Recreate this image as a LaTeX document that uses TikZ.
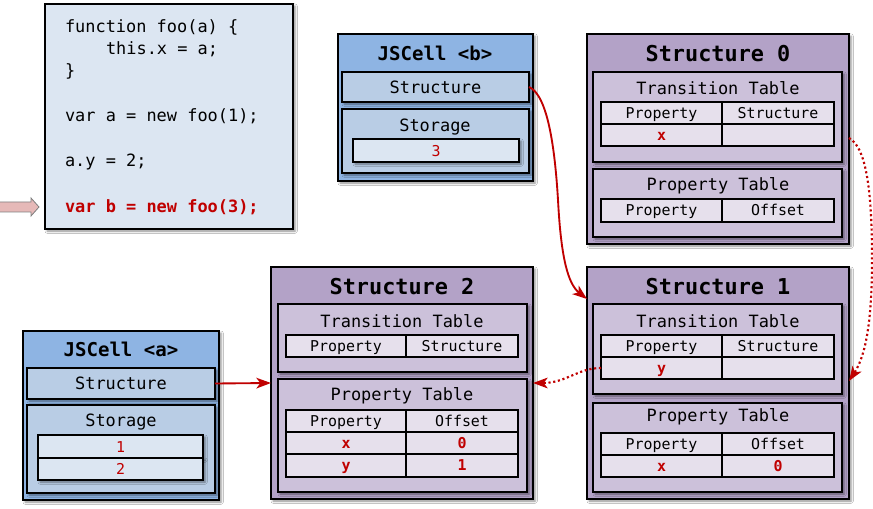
\documentclass[tikz,border=0pt]{standalone}
\usepackage{fontspec}
\newfontfamily\mono{DejaVu Sans Mono}
\usetikzlibrary{arrows.meta,shadows.blur}
\definecolor{codefill}{HTML}{DCE6F2}
\definecolor{bout}{HTML}{8EB4E3}
\definecolor{bmid}{HTML}{B9CDE5}
\definecolor{blight}{HTML}{DCE6F2}
\definecolor{pout}{HTML}{B3A2C7}
\definecolor{pmid}{HTML}{CCC1DA}
\definecolor{plight}{HTML}{E6E0EC}
\definecolor{redt}{HTML}{C00000}
\definecolor{pinkar}{HTML}{E6B9B8}
\newcommand\fcode{\mono\fontsize{12.7}{15}\selectfont}
\newcommand\fttl{\mono\bfseries\fontsize{16.4}{19}\selectfont}
\newcommand\fjs{\mono\bfseries\fontsize{14.3}{17}\selectfont}
\newcommand\fsec{\mono\fontsize{12.7}{15}\selectfont}
\newcommand\fsm{\mono\fontsize{11.2}{13}\selectfont}
% box: name, x1, y1, x2, y2, style, text
\newcommand\bx[7]{\node[#6, minimum width={(#4-#2)*0.75pt}, minimum height={(#5-#3)*0.75pt}] (#1) at ({(#2+#4)/2},{(#3+#5)/2}) {#7};}
\begin{document}
\begin{tikzpicture}[x=0.75pt,y=-0.75pt,
  every node/.style={inner sep=0pt,outer sep=0pt},
  shd/.style={blur shadow={shadow xshift=1.6pt,shadow yshift=-1.6pt,shadow blur steps=4,shadow blur radius=1.6pt,shadow opacity=45}},
  codebox/.style={draw=black,line width=1.5pt,fill=codefill,shd},
  codeline/.style={anchor=west,font=\fcode,text height=9.5pt,text depth=3pt},
  cout/.style={draw=black,line width=0.9pt,fill=bout,shd},
  cmid/.style={draw=black,line width=0.8pt,fill=bmid,shd,font=\fsec,text height=12pt,text depth=2.5pt},
  clight/.style={draw=black,line width=0.8pt,fill=blight,shd,font=\fsm,text=redt,text height=10.5pt,text depth=2pt},
  sout/.style={draw=black,line width=0.9pt,fill=pout,shd},
  smid/.style={draw=black,line width=0.8pt,fill=pmid,shd},
  scell/.style={draw=black,line width=0.8pt,fill=plight,font=\fsm,text height=10.5pt,text depth=2.5pt},
  sval/.style={scell,font=\fsm\bfseries,text=redt},
  ttl/.style={font=\fttl},
  jst/.style={font=\fjs},
  sect/.style={font=\fsec},
  redarrow/.style={draw=redt,line width=1.4pt,-{Stealth[length=11pt,width=8pt,inset=3pt]}},
  reddot/.style={draw=redt,line width=1.6pt,dotted,-{Stealth[length=11pt,width=8pt,inset=3pt]}}
]
\useasboundingbox (0,0) rectangle (873,509);
\fill[white] (0,0) rectangle (873,509);

% code box
\bx{code}{45}{4}{293}{229}{codebox}{}
\node[codeline] (l1) at (65,28) {function foo(a) \{};
\node[codeline] (l2) at (106,50) {this.x = a;};
\node[codeline] (l3) at (65,72) {\}};
\node[codeline] (l4) at (65,117) {var a = new foo(1);};
\node[codeline] (l5) at (65,162) {a.y = 2;};
\node[codeline,text=redt,font=\fcode\bfseries] (l6) at (65,208) {var b = new foo(3);};
\draw[draw=gray,fill=pinkar,line width=0.6pt] (0,202) -- (31,202) -- (31,198) -- (39,207) -- (31,216) -- (31,212) -- (0,212);

% JSCell <b>
\bx{jb}{338}{34}{533}{181}{cout}{}
\node[jst] (jbt) at (435,53) {JSCell <b>};
\bx{bstr}{342}{72}{529}{102}{cmid}{Structure}
\bx{bsto}{342}{109}{529}{173}{cmid}{}
\node[sect] (bstot) at (435,127) {Storage};
\bx{bv}{353}{139}{519}{162}{clight}{3}

% Structure 0
\bx{s0}{587}{34}{849}{244}{sout}{}
\node[ttl] (s0t) at (718,54) {Structure 0};
\bx{s0tt}{593}{72}{842}{162}{smid}{}
\node[sect] (s0ttt) at (718,88) {Transition Table};
\bx{s0a}{601}{102}{722}{124}{scell}{Property}
\bx{s0b}{722}{102}{834}{124}{scell}{Structure}
\bx{s0c}{601}{124}{722}{146}{sval}{x}
\bx{s0d}{722}{124}{834}{146}{scell}{}
\bx{s0pt}{593}{169}{842}{237}{smid}{}
\node[sect] (s0ptt) at (718,186) {Property Table};
\bx{s0e}{601}{199}{722}{222}{scell}{Property}
\bx{s0f}{722}{199}{834}{222}{scell}{Offset}

% Structure 1
\bx{s1}{587}{267}{849}{499}{sout}{}
\node[ttl] (s1t) at (718,287) {Structure 1};
\bx{s1tt}{593}{304}{842}{394}{smid}{}
\node[sect] (s1ttt) at (718,321) {Transition Table};
\bx{s1a}{601}{335}{722}{357}{scell}{Property}
\bx{s1b}{722}{335}{834}{357}{scell}{Structure}
\bx{s1c}{601}{357}{722}{379}{sval}{y}
\bx{s1d}{722}{357}{834}{379}{scell}{}
\bx{s1pt}{593}{403}{842}{492}{smid}{}
\node[sect] (s1ptt) at (718,417) {Property Table};
\bx{s1e}{601}{433}{722}{455}{scell}{Property}
\bx{s1f}{722}{433}{834}{455}{scell}{Offset}
\bx{s1g}{601}{455}{722}{477}{sval}{x}
\bx{s1h}{722}{455}{834}{477}{sval}{0}

% Structure 2
\bx{s2}{271}{267}{533}{499}{sout}{}
\node[ttl] (s2t) at (402,287) {Structure 2};
\bx{s2tt}{278}{304}{527}{372}{smid}{}
\node[sect] (s2ttt) at (402,321) {Transition Table};
\bx{s2a}{286}{335}{406}{357}{scell}{Property}
\bx{s2b}{406}{335}{518}{357}{scell}{Structure}
\bx{s2pt}{278}{379}{527}{492}{smid}{}
\node[sect] (s2ptt) at (402,396) {Property Table};
\bx{s2e}{286}{410}{406}{432}{scell}{Property}
\bx{s2f}{406}{410}{518}{432}{scell}{Offset}
\bx{s2g}{286}{432}{406}{454}{sval}{x}
\bx{s2h}{406}{432}{518}{454}{sval}{0}
\bx{s2i}{286}{454}{406}{477}{sval}{y}
\bx{s2j}{406}{454}{518}{477}{sval}{1}

% JSCell <a>
\bx{ja}{23}{331}{219}{500}{cout}{}
\node[jst] (jat) at (121,349) {JSCell <a>};
\bx{astr}{27}{368}{215}{399}{cmid}{Structure}
\bx{asto}{27}{405}{215}{493}{cmid}{}
\node[sect] (astot) at (121,422) {Storage};
\bx{av1}{38}{435}{203}{458}{clight}{1}
\bx{av2}{38}{458}{203}{480}{clight}{2}

% connectors
\draw[redarrow] (astr.east) -- (s2.west);
\draw[redarrow] (bstr.east) .. controls (548,95) and (555,150) .. (558,200)
   .. controls (561,258) and (568,284) .. ([yshift=-24pt]s1.north west);
\draw[reddot] ([yshift=-78pt]s0.north east) .. controls (868,148) and (872,200) .. (872,260)
   .. controls (872,320) and (866,355) .. ([yshift=-85.5pt]s1.north east);
\draw[reddot] (s1c.west) .. controls (578,368) and (566,383) .. (s2.east);
\end{tikzpicture}
\end{document}
